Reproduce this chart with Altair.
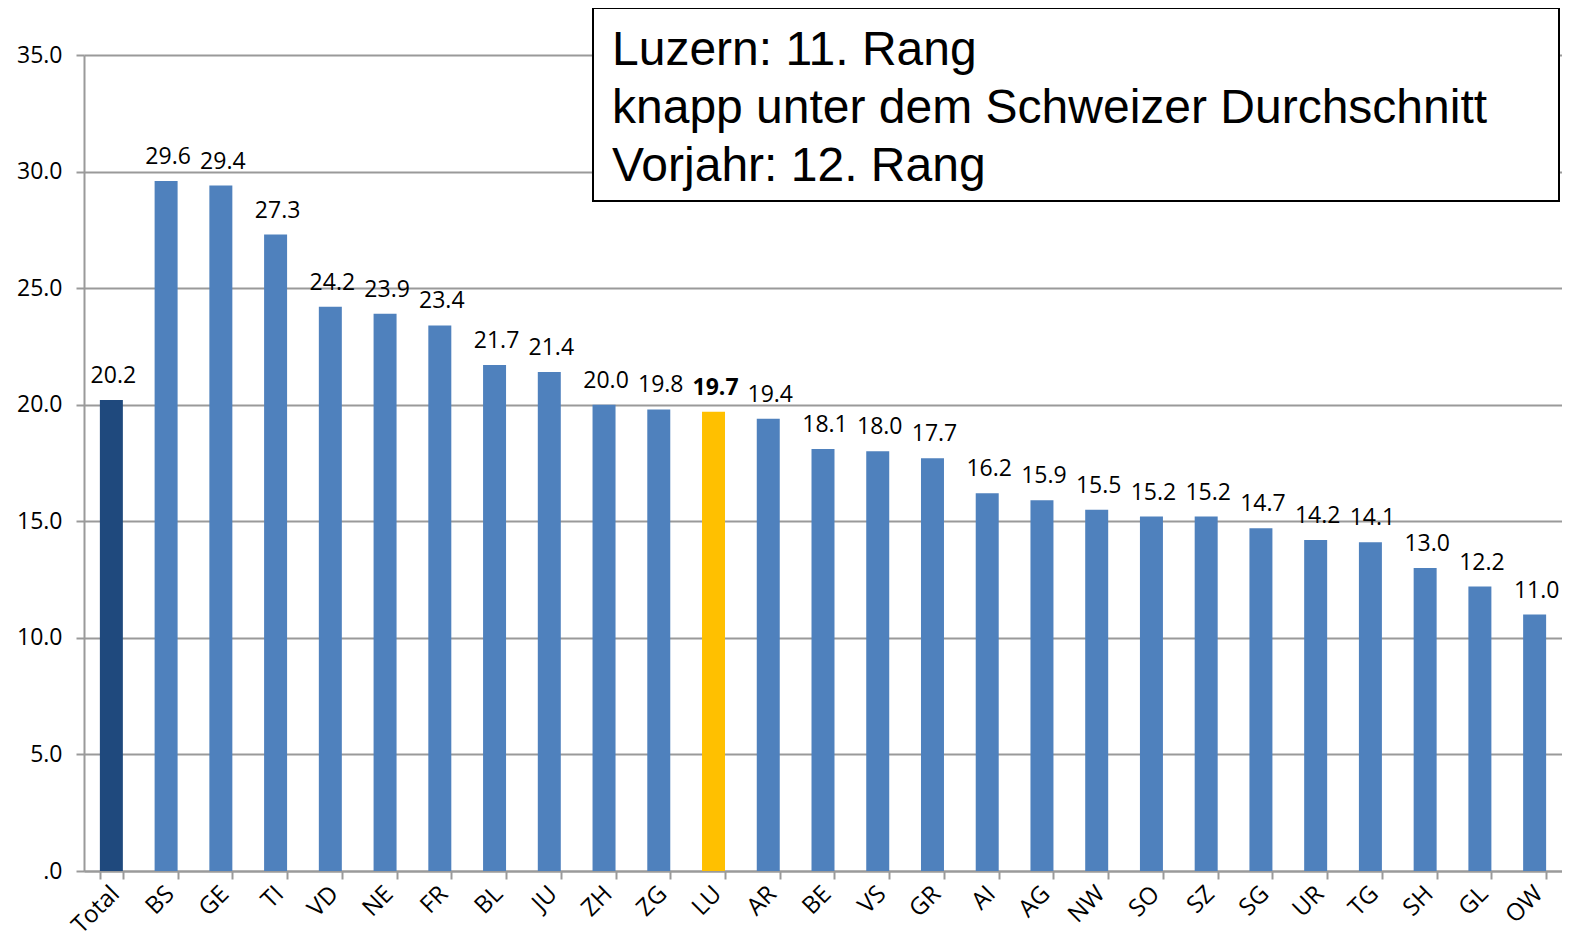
import altair as alt
import pandas as pd

cantons = ["Total", "BS", "GE", "TI", "VD", "NE", "FR", "BL", "JU", "ZH", "ZG", "LU", "AR", "BE",
           "VS", "GR", "AI", "AG", "NW", "SO", "SZ", "SG", "UR", "TG", "SH", "GL", "OW"]
values = [20.2, 29.6, 29.4, 27.3, 24.2, 23.9, 23.4, 21.7, 21.4, 20.0, 19.8, 19.7, 19.4, 18.1,
          18.0, 17.7, 16.2, 15.9, 15.5, 15.2, 15.2, 14.7, 14.2, 14.1, 13.0, 12.2, 11.0]
note_lines = ["Luzern: 11. Rang", "knapp unter dem Schweizer Durchschnitt", "Vorjahr: 12. Rang"]

C_TOTAL = "#1F497D"
C_BAR = "#4F81BD"
C_LU = "#FFC000"

def colour(c):
    if c == "Total":
        return C_TOTAL
    if c == "LU":
        return C_LU
    return C_BAR

df = pd.DataFrame({
    "canton": cantons,
    "value": values,
    "colour": [colour(c) for c in cantons],
})

FONT = "Open Sans"
FS = 23
GREY = "#9A9A9A"

x = alt.X("canton:N", sort=cantons, title=None,
          scale=alt.Scale(paddingInner=0.58, paddingOuter=0.29),
          axis=alt.Axis(labelAngle=315, labelAlign="right", labelBaseline="middle",
                        labelPadding=11, labelOffset=4, labelFontSize=24, labelFont=FONT,
                        labelColor="black",
                        tickBand="extent", tickSize=8, tickColor=GREY, tickWidth=2,
                        domainColor=GREY, domainWidth=2, grid=False))
y = alt.Y("value:Q", title=None,
          scale=alt.Scale(domain=[0, 35], nice=False),
          axis=alt.Axis(values=[0, 5, 10, 15, 20, 25, 30, 35],
                        labelExpr="datum.value == 0 ? '.0' : format(datum.value, '.1f')",
                        labelFontSize=FS, labelFont=FONT, labelColor="black", labelPadding=14,
                        tickSize=8, tickColor=GREY, tickWidth=2,
                        domainColor=GREY, domainWidth=2,
                        grid=True, gridColor=GREY, gridWidth=2))

base = alt.Chart(df)
bars = base.mark_bar().encode(x=x, y=y, color=alt.Color("colour:N", scale=None))
labels = base.transform_filter("datum.canton != 'LU'").mark_text(
    baseline="alphabetic", dy=-17, dx=2, fontSize=FS, font=FONT, color="black").encode(
    x=alt.X("canton:N", sort=cantons),
    y="value:Q",
    text=alt.Text("value:Q", format=".1f"),
)
label_lu = base.transform_filter("datum.canton == 'LU'").mark_text(
    baseline="alphabetic", dy=-17, dx=2, fontSize=FS, font=FONT, fontWeight="bold", color="black").encode(
    x=alt.X("canton:N", sort=cantons),
    y="value:Q",
    text=alt.Text("value:Q", format=".1f"),
)

box_df = pd.DataFrame({"k": [0]})
box = alt.Chart(box_df).mark_rect(fill="white", stroke="black", strokeWidth=2).encode(
    x=alt.value(509), x2=alt.value(1475), y=alt.value(-47), y2=alt.value(146))

texts = []
for i, line in enumerate(note_lines):
    texts.append(alt.Chart(pd.DataFrame({"t": [line]})).mark_text(
        align="left", baseline="alphabetic", fontSize=48, font="Liberation Sans", color="black"
    ).encode(x=alt.value(528), y=alt.value(10 + 58 * i), text="t:N"))

chart = alt.layer(bars, labels, label_lu, box, *texts).properties(
    width=1478, height=816,
    padding={"left": 76, "top": 47, "right": 0, "bottom": 72},
    autosize=alt.AutoSizeParams(type="none"),
    background="white",
).configure_view(stroke=None)

chart.save("out.html", embed_options={"renderer": "svg", "actions": False})
